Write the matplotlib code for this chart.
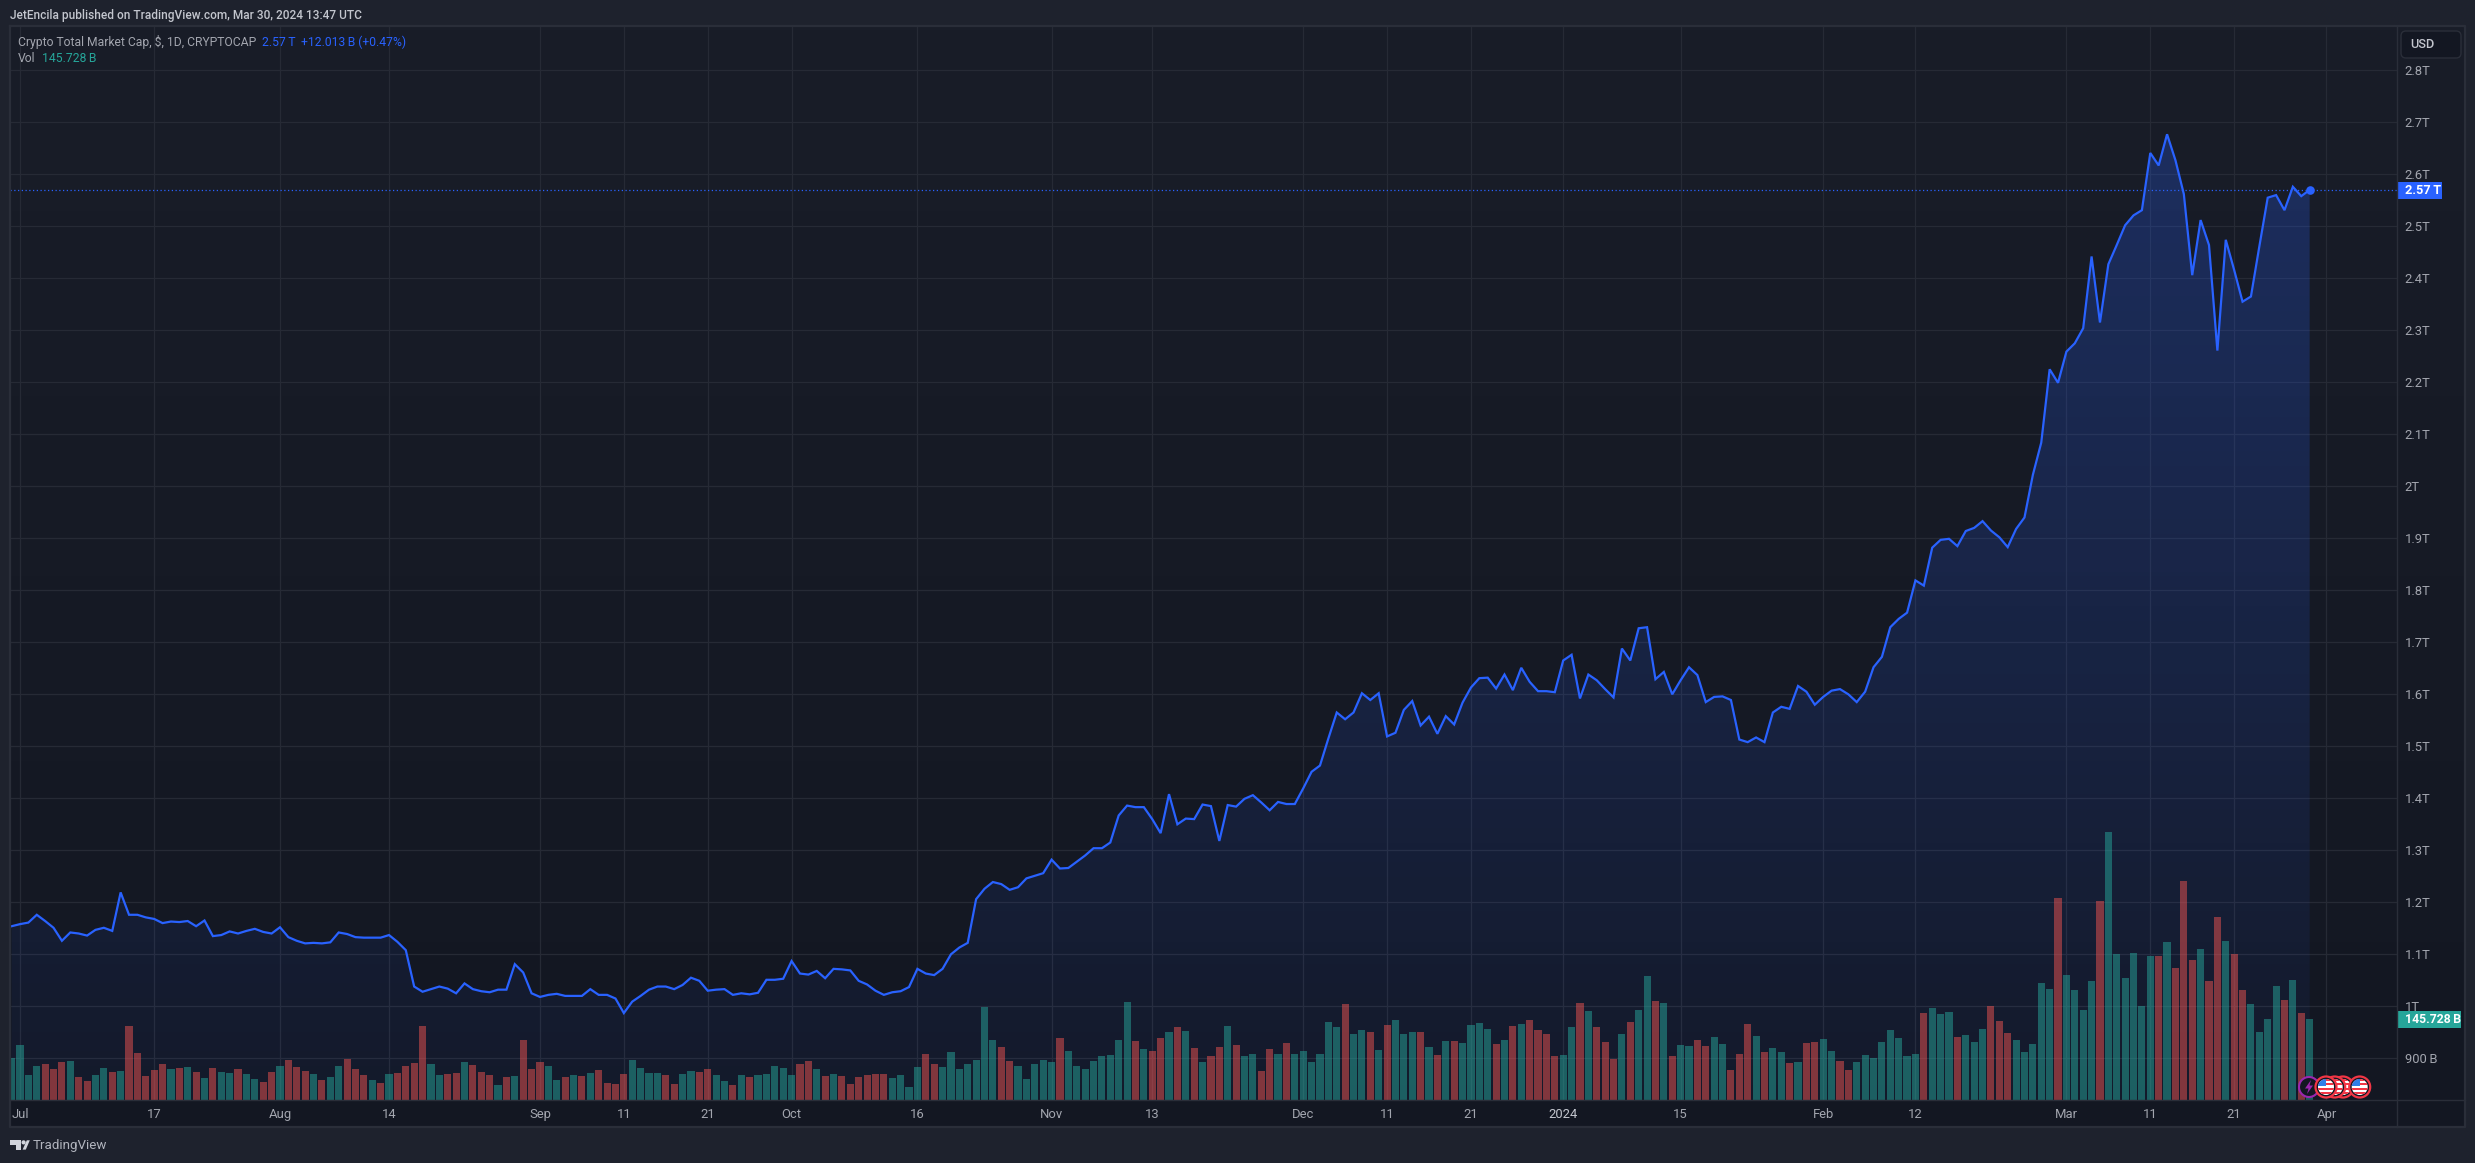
import numpy as np
import pandas as pd
import matplotlib
matplotlib.use('Agg')
import matplotlib.pyplot as plt
import matplotlib.dates as mdates
from matplotlib.patches import Circle, Rectangle, Polygon, FancyBboxPatch

plt.rcParams['font.family'] = ['Roboto', 'DejaVu Sans']

# Total market cap, daily close in trillions, 2023-06-30 to 2024-03-30
close_t = [
    1.154, 1.158, 1.161, 1.176, 1.164, 1.151, 1.126, 1.142, 1.140, 1.136,
    1.147, 1.151, 1.145, 1.219, 1.176, 1.176, 1.171, 1.168, 1.160, 1.163,
    1.162, 1.164, 1.154, 1.165, 1.135, 1.137, 1.144, 1.140, 1.145, 1.149,
    1.143, 1.140, 1.152, 1.133, 1.126, 1.121, 1.122, 1.121, 1.123, 1.142,
    1.139, 1.133, 1.132, 1.132, 1.132, 1.137, 1.124, 1.108, 1.038, 1.028,
    1.033, 1.038, 1.034, 1.025, 1.044, 1.033, 1.029, 1.027, 1.032, 1.032,
    1.081, 1.065, 1.025, 1.018, 1.022, 1.024, 1.020, 1.020, 1.020, 1.033,
    1.022, 1.022, 1.015, 0.987, 1.009, 1.020, 1.032, 1.038, 1.038, 1.033,
    1.041, 1.055, 1.049, 1.030, 1.032, 1.033, 1.022, 1.025, 1.023, 1.026,
    1.051, 1.051, 1.053, 1.087, 1.063, 1.061, 1.068, 1.054, 1.072, 1.071,
    1.069, 1.049, 1.042, 1.030, 1.022, 1.027, 1.029, 1.037, 1.072, 1.063,
    1.060, 1.072, 1.100, 1.113, 1.122, 1.206, 1.226, 1.239, 1.235, 1.224,
    1.229, 1.246, 1.251, 1.256, 1.282, 1.265, 1.266, 1.278, 1.290, 1.304,
    1.304, 1.315, 1.367, 1.386, 1.383, 1.383, 1.360, 1.333, 1.408, 1.350,
    1.361, 1.360, 1.388, 1.385, 1.318, 1.387, 1.384, 1.399, 1.406, 1.392,
    1.377, 1.393, 1.389, 1.389, 1.419, 1.451, 1.463, 1.515, 1.565, 1.552,
    1.565, 1.602, 1.589, 1.602, 1.519, 1.526, 1.570, 1.587, 1.540, 1.557,
    1.524, 1.558, 1.542, 1.584, 1.613, 1.631, 1.632, 1.611, 1.638, 1.608,
    1.651, 1.624, 1.606, 1.606, 1.604, 1.665, 1.676, 1.592, 1.638, 1.627,
    1.610, 1.594, 1.688, 1.665, 1.727, 1.729, 1.629, 1.643, 1.600, 1.627,
    1.652, 1.637, 1.585, 1.595, 1.596, 1.589, 1.513, 1.508, 1.517, 1.508,
    1.565, 1.576, 1.572, 1.616, 1.605, 1.580, 1.595, 1.607, 1.610, 1.600,
    1.585, 1.605, 1.652, 1.672, 1.729, 1.745, 1.757, 1.819, 1.809, 1.882,
    1.897, 1.899, 1.885, 1.914, 1.920, 1.933, 1.915, 1.902, 1.883, 1.918,
    1.940, 2.022, 2.084, 2.225, 2.199, 2.259, 2.275, 2.304, 2.442, 2.315,
    2.427, 2.464, 2.502, 2.521, 2.531, 2.641, 2.617, 2.677, 2.627, 2.562,
    2.406, 2.512, 2.464, 2.261, 2.474, 2.416, 2.355, 2.365, 2.461, 2.555,
    2.560, 2.531, 2.576, 2.558, 2.570,
]

# Daily volume in billions
volume_b = [
    75.6, 99, 45, 61.2, 64.8, 55.8, 68.4, 70.2, 41.4, 34.2,
    45, 57.6, 50.4, 52.2, 133.2, 84.6, 43.2, 54, 64.8, 55.8,
    57.6, 59.4, 50.4, 39.6, 57.6, 50.4, 48.6, 55.8, 46.8, 37.8,
    32.4, 50.4, 61.2, 72, 59.4, 52.2, 46.8, 36, 41.4, 61.2,
    73.8, 55.8, 45, 36, 30.6, 46.8, 48.6, 61.2, 66.6, 133.2,
    64.8, 45, 46.8, 48.6, 68.4, 63, 50.4, 45, 27, 41.4,
    43.2, 108, 55.8, 68.4, 61.2, 36, 41.4, 45, 43.2, 48.6,
    54, 30.6, 28.8, 46.8, 72, 57.6, 48.6, 48.6, 45, 28.8,
    46.8, 52.2, 50.4,
    55.8, 45, 34.2, 27, 45, 41.4, 45, 46.8, 61.2, 57.6,
    45, 64.8, 70.2, 55.8, 43.2, 46.8, 43.2, 28.8, 41.4, 45,
    46.8, 46.8, 39.6, 45, 23.4, 59.4, 82.8, 64.8, 59.4, 86.4,
    55.8, 64.8, 72, 167.4, 108, 95.4, 70.2, 61.2, 37.8, 64.8,
    72, 68.4, 111.6, 88.2, 61.2, 55.8, 70.2, 79.2, 81, 108,
    176.4, 106.2, 91.8, 88.2, 111.6, 122.4, 131.4, 124.2, 93.6, 68.4,
    79.2, 95.4, 133.2, 99, 79.2, 82.8, 52.2, 91.8, 82.8, 102.6,
    82.8, 88.2, 68.4, 82.8, 140.4, 131.4, 172.8, 118.8, 126, 122.4,
    90, 135, 144,
    118.8, 122.4, 122.4, 95.4, 81, 106.2, 106.2, 102.6, 135, 138.6,
    127.8, 100.8, 108, 133.2, 136.8, 144, 126, 118.8, 79.2, 81,
    131.4, 174.6, 160.2, 131.4, 104.4, 73.8, 118.8, 140.4, 162, 223.2,
    178.2, 174.6, 79.2, 99, 97.2, 108, 97.2, 113.4, 100.8, 54,
    82.8, 136.8, 115.2, 86.4, 93.6, 86.4, 66.6, 68.4, 102.6, 104.4,
    109.8, 88.2, 70.2, 54, 68.4, 81, 75.6, 104.4, 126, 111.6,
    79.2, 82.8, 156.6, 165.6, 154.8, 158.4, 113.4, 117, 104.4, 127.8,
    169.2, 142.2, 120.6, 108, 86.4, 100.8, 210.6, 199.8, 363.6, 225,
    198, 162, 214.2, 358.2,
    481.8, 262.8, 219.6, 264.6, 169.2, 259.2, 259.2, 284.4, 237.6, 394.2,
    252, 271.8, 214.2, 329.4, 286.2, 262.8, 198, 172.8, 122.4, 145.8,
    205.2, 180, 216, 156.6, 145.728,
]

# g = up day, r = down day
vol_dir = (
    'gggg rrr g rr gg r g rrrrr g r g r g r gg r gg rr g rrr g r gg rrr g r g '
    'rrrr gg rr g rrr g r g rrr gg r g r g rrrr gggg rr gg r '
    'r gg r g r ggggg rr g r g rrrrrr gggg rr ggggggg rr ggggg r gggggggg r g '
    'rr g r g r g rr g r gg rr g r gggggg r gg r g r g '
    'gg r g r g r gggg r g r g rrrr gg r g rrr g r gg r g r gg rr gg rrr g r '
    'gg r g rr gg rr gggggggg r ggg r ggg rrr ggggg r gggg r '
    'gggggg r g rrr g rr g rr gggg r g r g'
).replace(' ', '')

start_date = '2023-06-30'

tick_dates = ['2023-07-01', '2023-07-17', '2023-08-01', '2023-08-14', '2023-09-01',
              '2023-09-11', '2023-09-21', '2023-10-01', '2023-10-16', '2023-11-01',
              '2023-11-13', '2023-12-01', '2023-12-11', '2023-12-21', '2024-01-01',
              '2024-01-15', '2024-02-01', '2024-02-12', '2024-03-01', '2024-03-11',
              '2024-03-21', '2024-04-01']
tick_labels = ['Jul', '17', 'Aug', '14', 'Sep', '11', '21', 'Oct', '16', 'Nov', '13',
               'Dec', '11', '21', '2024', '15', 'Feb', '12', 'Mar', '11', '21', 'Apr']

price_ticks = [0.9, 1.0, 1.1, 1.2, 1.3, 1.4, 1.5, 1.6, 1.7, 1.8, 1.9, 2.0,
               2.1, 2.2, 2.3, 2.4, 2.5, 2.6, 2.7, 2.8]
price_labels = ['900\u2009B', '1T', '1.1T', '1.2T', '1.3T', '1.4T', '1.5T', '1.6T', '1.7T',
                '1.8T', '1.9T', '2T', '2.1T', '2.2T', '2.3T', '2.4T', '2.5T', '2.6T',
                '2.7T', '2.8T']

assert len(close_t) == 275 and len(volume_b) == 275 and len(vol_dir) == 275

dates = pd.date_range(start_date, periods=len(close_t), freq='D')

W, H = 2475, 1163
OUTER = '#1e222d'
BORDER = '#2a2e39'
GRID = '#262a35'
BLUE = '#2962ff'
TEAL = '#26a69a'
RED = '#ef5350'
TEXT = '#a3a6af'

fig = plt.figure(figsize=(W / 100, H / 100), dpi=100, facecolor=OUTER)


def pixel_axes(zorder):
    a = fig.add_axes([0, 0, 1, 1], zorder=zorder)
    a.set_xlim(0, W)
    a.set_ylim(H, 0)
    a.axis('off')
    a.patch.set_alpha(0)
    return a


# chart panel background, slightly lighter at the top
bg = pixel_axes(0)
bg_grad = np.linspace(0, 1, 256).reshape(-1, 1, 1)
top_c = np.array([25, 29, 40]) / 255
bot_c = np.array([19, 23, 34]) / 255
bg.imshow(top_c + (bot_c - top_c) * bg_grad, extent=(10, 2465, 1127, 26), aspect='auto')
bg.set_xlim(0, W)
bg.set_ylim(H, 0)

# price pane
left, right, top, bottom = 10, 2397, 27, 1100
rect = [left / W, (H - bottom) / H, (right - left) / W, (bottom - top) / H]
ax = fig.add_axes(rect, zorder=1)
ax.patch.set_alpha(0)

day0 = mdates.date2num(dates[0])
px_day = 8.387
xlim = (day0 - (11.6 - left) / px_day, day0 + (right - 11.6) / px_day)
ylim = (2.8 - (bottom - 70.3) / 520, 2.8 - (top - 70.3) / 520)

# area under the line with vertical fade
poly = ax.fill_between(dates, close_t, ylim[0], color='none')
fade = np.zeros((256, 1, 4))
fade[..., 0], fade[..., 1], fade[..., 2] = 41 / 255, 98 / 255, 1.0
fade[:, 0, 3] = np.linspace(0.26, 0.04, 256)
img = ax.imshow(fade, extent=(xlim[0], xlim[1], ylim[0], max(close_t)), origin='upper',
                aspect='auto', zorder=1.5)
img.set_clip_path(poly.get_paths()[0], transform=ax.transData)

ax.plot(dates, close_t, color=BLUE, lw=1.6, zorder=3, solid_joinstyle='miter')
ax.plot(dates[-1], close_t[-1], 'o', color=BLUE, ms=6.2, mew=0, zorder=4)
ax.axhline(close_t[-1], color=BLUE, lw=0.9, ls=(0, (1, 2)), zorder=2.5)

ax.set_xlim(xlim)
ax.set_ylim(ylim)
ax.set_xticks(pd.to_datetime(tick_dates))
ax.set_xticklabels(tick_labels)
ax.set_yticks(price_ticks)
ax.set_yticklabels(price_labels)
ax.tick_params(axis='both', length=0, labelsize=9.4, colors=TEXT)
ax.tick_params(axis='x', pad=5.5)
ax.get_xticklabels()[tick_labels.index('2024')].set_color('#c3c6ce')
ax.grid(True, color=GRID, lw=0.9, zorder=1)
ax.set_axisbelow(True)
for s in ax.spines.values():
    s.set_visible(False)

# volume overlay, own scale
ax_vol = ax.twinx()
ax_vol.set_zorder(2)
ax_vol.patch.set_alpha(0)
vol_colors = [TEAL if d == 'g' else RED for d in vol_dir]
ax_vol.bar(dates, volume_b, width=0.85, color=vol_colors, alpha=0.5, linewidth=0)
ax_vol.set_ylim(0, (bottom - top) * 1.8)
ax_vol.set_xlim(xlim)
ax_vol.set_yticks([])
for s in ax_vol.spines.values():
    s.set_visible(False)

# twinx moves the price labels to the left, put them back
ax.yaxis.tick_right()
ax.tick_params(axis='y', length=0, pad=5.5, labelright=True, labelleft=False)

# everything outside the data panes, in pixel coordinates
ui = pixel_axes(5)

ui.plot([10, 10, 2465, 2465, 10], [26, 1127, 1127, 26, 26], color=BORDER, lw=1.6)
ui.plot([2397, 2397], [27, 1127], color=BORDER, lw=1.0)
ui.plot([10, 2465], [1100, 1100], color=BORDER, lw=1.0)

ui.text(10, 15, 'JetEncila published on TradingView.com, Mar 30, 2024 13:47 UTC',
        color='#c3c6ce', fontsize=8.6, va='center', fontweight='medium')
ui.text(18, 42, 'Crypto Total Market Cap, \\$, 1D, CRYPTOCAP', color=TEXT, fontsize=8.7, va='center')
ui.text(262, 42, '2.57\u2009T', color=BLUE, fontsize=8.7, va='center')
ui.text(301, 42, '+12.013\u2009B (+0.47%)', color=BLUE, fontsize=8.7, va='center')
ui.text(18, 59, 'Vol', color=TEXT, fontsize=8.7, va='center')
ui.text(42, 59, '145.728\u2009B', color=TEAL, fontsize=8.7, va='center')

ui.add_patch(FancyBboxPatch((2404, 34), 54, 21, boxstyle='round,pad=3,rounding_size=5',
                            fc='#131722', ec=BORDER, lw=1.0))
ui.text(2410, 44.5, 'USD', color='#c3c6ce', fontsize=9.2, va='center', fontweight='medium')

ui.add_patch(Rectangle((2397, 182), 45, 17, fc=BLUE, ec='none'))
ui.text(2405, 190.5, '2.57\u2009T', color='white', fontsize=9.2, va='center', fontweight='bold')
ui.add_patch(Rectangle((2397, 1011), 64, 17, fc=TEAL, ec='none'))
ui.text(2405, 1019.5, '145.728\u2009B', color='white', fontsize=8.8, va='center', fontweight='bold')

# event icons on the time axis
ui.add_patch(Circle((2309, 1087), 10, fc='#131722', ec='#9c27b0', lw=1.5, zorder=3))
ui.add_patch(Polygon([(2311, 1080), (2305, 1088.5), (2308.5, 1088.5), (2307, 1094),
                      (2313, 1085.5), (2309.5, 1085.5)], fc='#9c27b0', ec='none', zorder=3.1))


def flag_icon(cx, z):
    ui.add_patch(Circle((cx, 1087), 10.5, fc='#131722', ec='#f23645', lw=1.6, zorder=z))
    disc = Circle((cx, 1087), 8, fc='white', ec='none', zorder=z + 0.01)
    ui.add_patch(disc)
    for k in range(4):
        r = Rectangle((cx - 9, 1079 + k * 4.3), 18, 2, fc='#f23645', ec='none', zorder=z + 0.02)
        ui.add_patch(r)
        r.set_clip_path(disc)
    c = Rectangle((cx - 9, 1078), 9, 8, fc='#2e7fe8', ec='none', zorder=z + 0.03)
    ui.add_patch(c)
    c.set_clip_path(disc)


for cx, z in [(2343, 4), (2334.7, 4.2), (2359.7, 4.4), (2326, 4.6)]:
    flag_icon(cx, z)

# logo and wordmark
logo_c = '#d1d4dc'
ui.add_patch(Polygon([(10, 1140.3), (20.7, 1140.3), (20.7, 1149.6), (15.5, 1149.6),
                      (15.5, 1144.6), (10, 1144.6)], fc=logo_c, ec='none'))
ui.add_patch(Circle((23.6, 1142.4), 2.1, fc=logo_c, ec='none'))
ui.add_patch(Polygon([(22.6, 1149.6), (26.8, 1140.3), (29.8, 1140.3), (25.8, 1149.6)], fc=logo_c, ec='none'))
ui.text(33, 1146, 'TradingView', color='#b2b5be', fontsize=9.6, va='center')

fig.savefig('out.png', dpi=100, facecolor=OUTER)
